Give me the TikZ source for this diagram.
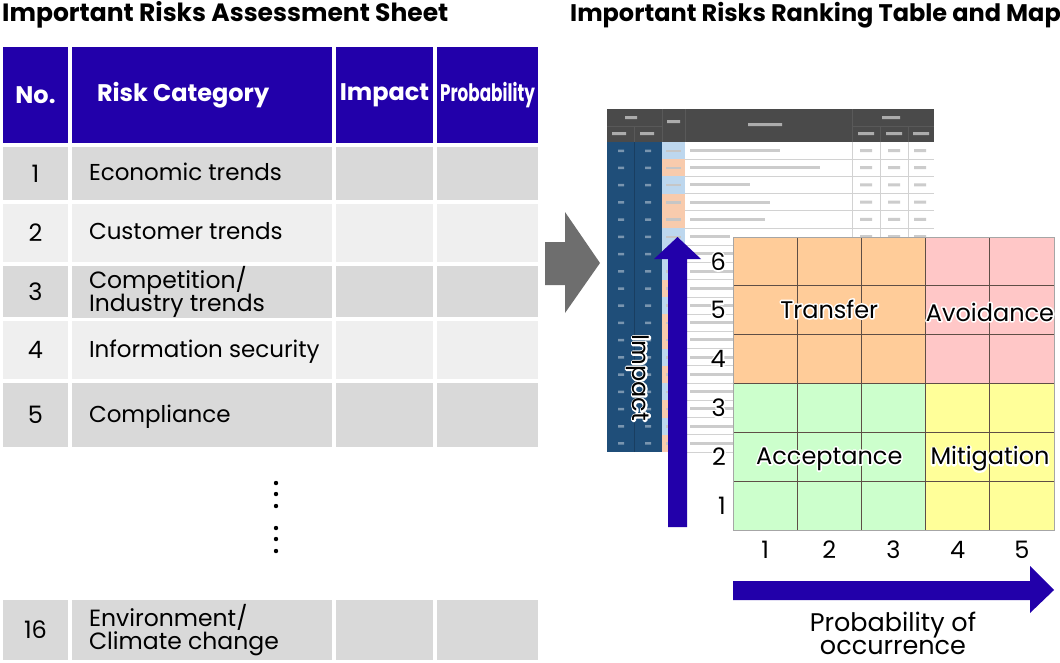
\documentclass[tikz,border=0pt]{standalone}
\usepackage{fontspec}
\setmainfont{Poppins}
\usepackage{graphicx}
\definecolor{hdr}{HTML}{2200AA}
\definecolor{rowA}{HTML}{D9D9D9}
\definecolor{rowB}{HTML}{EFEFEF}
\definecolor{garrow}{HTML}{6E6E6E}
\definecolor{cOr}{HTML}{FFCC99}
\definecolor{cPk}{HTML}{FFC7C7}
\definecolor{cGr}{HTML}{CCFFCC}
\definecolor{cYe}{HTML}{FFFF99}
\definecolor{gline}{HTML}{5E4E46}
\definecolor{tblue}{HTML}{1F4E79}
\definecolor{thead}{HTML}{4A4A4A}
\definecolor{tb}{HTML}{BDD7EE}
\definecolor{to}{HTML}{F8CBAD}
% white outline behind a text: one stroked copy, then the filled text
\newcommand\halo[1]{\rlap{\special{pdf:code 1 Tr 3.2 w 1 J 1 j 1 1 1 RG}#1\special{pdf:code 0 Tr 0.4 w 0 J 0 j 0 0 0 RG}}#1}
\newcommand\lcell[1]{\makebox[226pt][l]{\begin{tabular}{@{}l@{}}#1\end{tabular}}}
\begin{document}
\begin{tikzpicture}[x=1pt,y=-1pt,
  cell/.style={anchor=north west, inner sep=0pt, outer sep=0pt, minimum width=#1},
  hcell/.style={cell=#1, fill=hdr, text=white, minimum height=96, font=\bfseries\fontsize{24}{24}\selectfont},
  bcell/.style={cell=#1, font=\fontsize{23}{23}\selectfont, text height=16pt, text depth=0pt},
  ncell/.style={cell=#1, font=\fontsize{24}{24}\selectfont, text height=17pt, text depth=0pt},
  tcell/.style={cell=#1, font=\fontsize{23.5}{19.5}\selectfont},
  title/.style={anchor=base west, inner sep=0pt, font=\bfseries\fontsize{25}{25}\selectfont},
  quad/.style={inner sep=0pt, font=\fontsize{24}{24}\selectfont},
  axnum/.style={inner sep=0pt, font=\fontsize{24}{24}\selectfont},
  dot/.style={fill=black, circle, inner sep=0pt, minimum size=4.4pt},
  blur/.style={fill=gray!40},
  gridln/.style={draw=gline, line width=0.7pt}
]
\useasboundingbox (0,0) rectangle (1060,662);

% ---------- titles ----------
\node[title] (tl) at (2,21) {Important Risks Assessment Sheet};
\node[title, font=\bfseries\fontsize{24}{24}\selectfont] (tr) at (570,21) {Important Risks Ranking Table and Map};

% ---------- assessment sheet ----------
\node[hcell=65] (hNo) at (3,47) {No.};
\node[hcell=260] (hCat) at (72,47) {\makebox[210pt][l]{Risk Category}};
\node[hcell=97] (hImp) at (336,47) {Impact};
\node[hcell=101] (hPro) at (437,47) {\scalebox{0.7}[1]{Probability}};

% row 1
\node[ncell=65, minimum height=53, fill=rowA] (n1) at (3,147) {1};
\node[bcell=260, minimum height=53, fill=rowA] (c1) at (72,147) {\lcell{Economic trends}};
\node[bcell=97, minimum height=53, fill=rowA] (i1) at (336,147) {};
\node[bcell=101, minimum height=53, fill=rowA] (p1) at (437,147) {};
% row 2
\node[ncell=65, minimum height=58, fill=rowB] (n2) at (3,204) {2};
\node[bcell=260, minimum height=58, fill=rowB] (c2) at (72,204) {\lcell{Customer trends}};
\node[bcell=97, minimum height=58, fill=rowB] (i2) at (336,204) {};
\node[bcell=101, minimum height=58, fill=rowB] (p2) at (437,204) {};
% row 3
\node[ncell=65, minimum height=51, fill=rowA] (n3) at (3,266) {3};
\node[tcell=260, minimum height=51, fill=rowA] (c3) at (72,266) {\lcell{Competition/\\Industry trends}};
\node[bcell=97, minimum height=51, fill=rowA] (i3) at (336,266) {};
\node[bcell=101, minimum height=51, fill=rowA] (p3) at (437,266) {};
% row 4
\node[ncell=65, minimum height=58, fill=rowB] (n4) at (3,321) {4};
\node[bcell=260, minimum height=58, fill=rowB] (c4) at (72,321) {\lcell{Information security}};
\node[bcell=97, minimum height=58, fill=rowB] (i4) at (336,321) {};
\node[bcell=101, minimum height=58, fill=rowB] (p4) at (437,321) {};
% row 5
\node[ncell=65, minimum height=64, fill=rowA] (n5) at (3,383) {5};
\node[bcell=260, minimum height=64, fill=rowA] (c5) at (72,383) {\lcell{Compliance}};
\node[bcell=97, minimum height=64, fill=rowA] (i5) at (336,383) {};
\node[bcell=101, minimum height=64, fill=rowA] (p5) at (437,383) {};
% dots
\foreach \yy [count=\k] in {483,494,506,528,539,551}
  \node[dot] (d\k) at (276,\yy) {};
% row 16
\node[ncell=65, minimum height=60, fill=rowA] (n16) at (3,600) {16};
\node[tcell=260, minimum height=60, fill=rowA] (c16) at (72,600) {\lcell{Environment/\\Climate change}};
\node[bcell=97, minimum height=60, fill=rowA] (i16) at (336,600) {};
\node[bcell=101, minimum height=60, fill=rowA] (p16) at (437,600) {};

% ---------- grey block arrow ----------
\fill[garrow] (545,242) -- (565,242) -- (565,212) -- (600,263) -- (565,313) -- (565,285) -- (545,285) -- cycle;

% ---------- blurred ranking table ----------
\fill[white] (607,109) rectangle (934,452);
\fill[thead] (607,109) rectangle (934,142);
\draw[gray!70!black, line width=0.6pt] (607,126) -- (662,126) (852,126) -- (934,126)
  (634,126) -- (634,142) (662,109) -- (662,142) (685,109) -- (685,142)
  (852,109) -- (852,142) (880,126) -- (880,142) (908,126) -- (908,142);
\fill[gray!65] (625,116) rectangle (637,119) (612,132) rectangle (626,135) (640,132) rectangle (654,135)
  (667,120) rectangle (680,123) (748,123) rectangle (782,126) (882,116) rectangle (900,119)
  (858,132) rectangle (874,135) (886,132) rectangle (902,135) (913,132) rectangle (929,135);
\fill[tblue] (607,142) rectangle (662,452);
\draw[tblue!80!black, line width=1pt] (634,142) -- (634,452);
\foreach \i/\tc/\w in {0/tb/90,1/to/130,2/tb/60,3/to/80,4/to/75,5/tb/40,6/tb/95,7/tb/85,8/to/50,9/tb/70,10/to/100,11/to/60,12/tb/90,13/to/55,14/tb/80,15/to/70,16/tb/65,17/to/85}{
  \pgfmathsetmacro\yy{142+\i*17.22}
  \fill[\tc] (662,\yy) rectangle (685,\yy+17.22);
  \fill[tblue!60!white] (618,\yy+7.5) rectangle (624,\yy+10) (645,\yy+7.5) rectangle (651,\yy+10);
  \fill[gray!45] (666,\yy+7.5) rectangle (681,\yy+10);
  \fill[blur] (690,\yy+7) rectangle (690+\w,\yy+10);
  \fill[blur] (860,\yy+7) rectangle (872,\yy+10) (888,\yy+7) rectangle (900,\yy+10) (914,\yy+7) rectangle (926,\yy+10);
  \draw[gray!35, line width=0.8pt] (685,\yy+17.22) -- (934,\yy+17.22);
}
\draw[gray!35, line width=0.8pt] (852,142) -- (852,452) (880,142) -- (880,452) (908,142) -- (908,452);

% ---------- risk map ----------
\fill[cOr] (733,237) rectangle (925.6,383.5);
\fill[cPk] (925.6,237) rectangle (1054,383.5);
\fill[cGr] (733,383.5) rectangle (925.6,530);
\fill[cYe] (925.6,383.5) rectangle (1054,530);
\foreach \k in {1,2,3,4}
  \draw[gridln] (733+\k*64.2,237) -- (733+\k*64.2,530);
\foreach \k in {1,2,3,4,5}
  \draw[gridln] (733,237+\k*48.83) -- (1054,237+\k*48.83);
\draw[gray!70, line width=0.8pt] (733,237) rectangle (1054,530);

\node[quad] (qT) at (829.3,309) {\halo{Transfer}};
\node[quad] (qA) at (990,312) {\halo{Avoidance}};
\node[quad] (qC) at (829.3,459) {\halo{Acceptance}};
\node[quad] (qM) at (990,459) {\halo{Mitigation}};

% ---------- impact axis ----------
\fill[hdr] (668,527) -- (668,259) -- (654,259) -- (677.5,237) -- (701,259) -- (687,259) -- (687,527) -- cycle;
\node[inner sep=0pt, rotate=-90, font=\fontsize{24}{24}\selectfont] (imp) at (638,378) {\halo{Impact}};
\foreach \n in {1,...,6}
  \node[axnum, anchor=east] (y\n) at (726,{530-(\n-0.5)*48.83}) {\halo{\n}};
\foreach \n in {1,...,5}
  \node[axnum] (x\n) at ({733+(\n-0.5)*64.2},550) {\n};

% ---------- probability axis ----------
\fill[hdr] (733,581) -- (1030,581) -- (1030,566) -- (1054,590) -- (1030,613) -- (1030,600) -- (733,600) -- cycle;
\node[align=center, inner sep=0pt, font=\fontsize{25.5}{23}\selectfont] (prob) at (893,633) {Probability of\\occurrence};
\end{tikzpicture}
\end{document}
